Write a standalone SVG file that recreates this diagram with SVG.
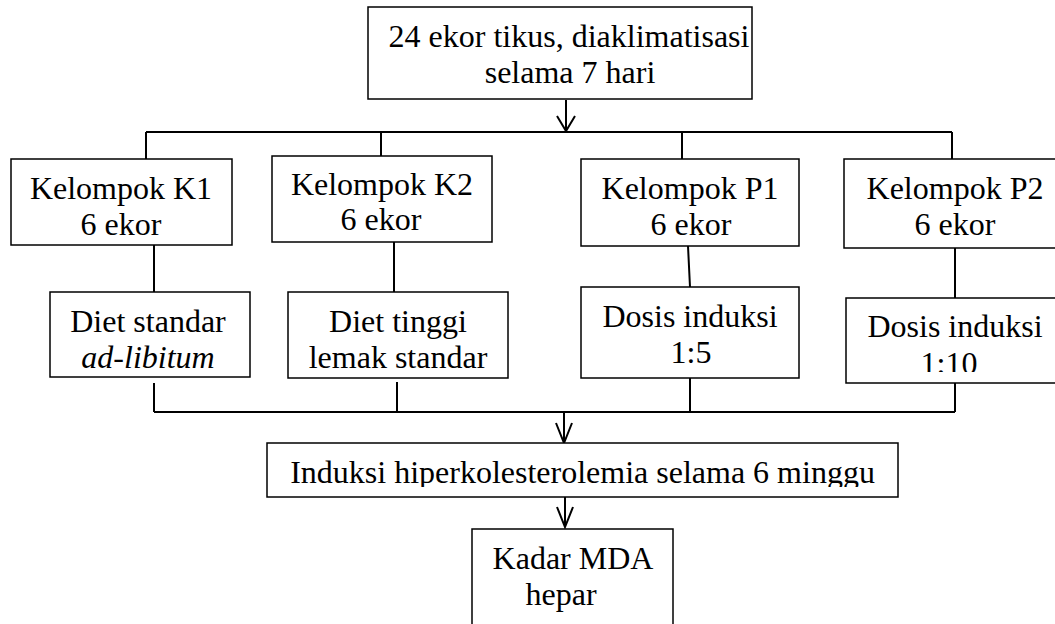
<svg xmlns="http://www.w3.org/2000/svg" width="1055" height="624" viewBox="0 0 1055 624">
<style>
.box{fill:#fff;stroke:#000;stroke-width:1.5}
.t{font-family:"Liberation Serif","Times New Roman",serif;font-size:32px;fill:#000;text-anchor:middle}
.i{font-style:italic}
.c{fill:none;stroke:#000;stroke-width:2}
</style>
<defs>
<clipPath id="clipP2"><rect x="840" y="290" width="230" height="82"/></clipPath>
<clipPath id="clipInd"><rect x="260" y="440" width="650" height="47"/></clipPath>
</defs>
<rect width="1055" height="624" fill="#fff"/>
<g id="connectors">
<path class="c" d="M566,100V130"/>
<path class="c" d="M557,116L566,131L575,116"/>
<path class="c" d="M146,132H952"/>
<path class="c" d="M146,132V159M381,132V156M682,132V159M952,132V159"/>
<path class="c" d="M154,245V292M394,242V292M688,246L690,287M955,248V298"/>
<path class="c" d="M154,383V412M397,382V412M690,378V412M955,383V412"/>
<path class="c" d="M154,412H955"/>
<path class="c" d="M564,412V442"/>
<path class="c" d="M556,423L564,443L572,423"/>
<path class="c" d="M565,497V526"/>
<path class="c" d="M557,507L565,527L573,507"/>
</g>
<g id="start">
<rect class="box" x="368" y="7" width="384" height="92"/>
<text class="t" x="569" y="47">24 ekor tikus, diaklimatisasi</text>
<text class="t" x="570" y="83">selama 7 hari</text>
</g>
<g id="k1">
<rect class="box" x="11" y="159" width="221" height="86"/>
<text class="t" x="121" y="199">Kelompok K1</text>
<text class="t" x="121" y="235">6 ekor</text>
</g>
<g id="k2">
<rect class="box" x="272" y="156" width="220" height="86"/>
<text class="t" x="382" y="195">Kelompok K2</text>
<text class="t" x="381" y="230">6 ekor</text>
</g>
<g id="p1">
<rect class="box" x="581" y="159" width="218" height="87"/>
<text class="t" x="690" y="199">Kelompok P1</text>
<text class="t" x="691" y="235">6 ekor</text>
</g>
<g id="p2">
<rect class="box" x="844" y="159" width="222" height="89"/>
<text class="t" x="955" y="199">Kelompok P2</text>
<text class="t" x="955" y="235">6 ekor</text>
</g>
<g id="k1diet">
<rect class="box" x="50" y="292" width="200" height="85"/>
<text class="t" x="148" y="332">Diet standar</text>
<text class="t i" x="148" y="368">ad-libitum</text>
</g>
<g id="k2diet">
<rect class="box" x="288" y="292" width="220" height="86"/>
<text class="t" x="398" y="332">Diet tinggi</text>
<text class="t" x="398" y="368">lemak standar</text>
</g>
<g id="p1dosis">
<rect class="box" x="581" y="287" width="218" height="91"/>
<text class="t" x="690" y="327">Dosis induksi</text>
<text class="t" x="691" y="363">1:5</text>
</g>
<g id="p2dosis">
<rect class="box" x="846" y="298" width="220" height="85"/>
<g clip-path="url(#clipP2)">
<text class="t" x="955" y="337">Dosis induksi</text>
<text class="t" x="949" y="374">1:10</text>
</g>
</g>
<g id="induksi">
<rect class="box" x="267" y="443" width="631" height="54"/>
<g clip-path="url(#clipInd)">
<text class="t" x="582.5" y="483">Induksi hiperkolesterolemia selama 6 minggu</text>
</g>
</g>
<g id="kadar">
<rect class="box" x="472" y="529" width="201" height="110"/>
<text class="t" x="573" y="569">Kadar MDA</text>
<text class="t" x="561" y="605">hepar</text>
</g>
</svg>
